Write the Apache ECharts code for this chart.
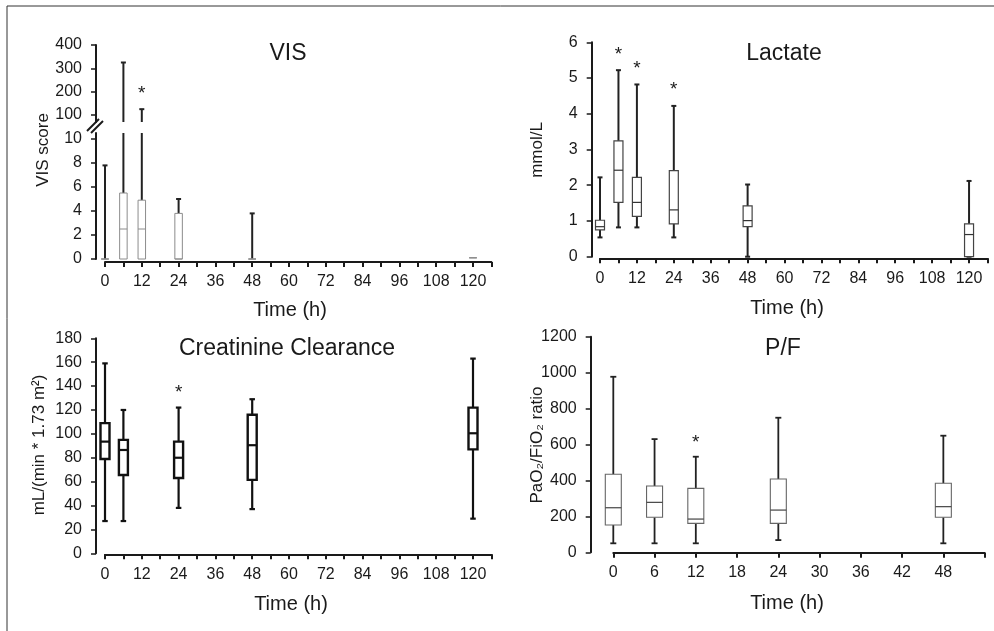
<!DOCTYPE html>
<html>
<head>
<meta charset="utf-8">
<script src="https://cdn.jsdelivr.net/npm/echarts@6.0.0/dist/echarts.min.js"></script>
<style>
  html, body { margin: 0; padding: 0; background: #fff; }
  #main { width: 994px; height: 631px; }
</style>
</head>
<body>
<div id="main"></div>
<script>
// tick labels
var hourTicks = [0, 12, 24, 36, 48, 60, 72, 84, 96, 108, 120];
var pfHourTicks = [0, 6, 12, 18, 24, 30, 36, 42, 48];
var visLowTicks = [0, 2, 4, 6, 8, 10];
var visHighTicks = [100, 200, 300, 400];
var lacTicks = [0, 1, 2, 3, 4, 5, 6];
var crTicks = [0, 20, 40, 60, 80, 100, 120, 140, 160, 180];
var pfTicks = [0, 200, 400, 600, 800, 1000, 1200];

// [time, min, q1, median, q3, max]
var visBoxes = [
    [0, 0, 0, 0, 0, 7.8],
    [6, 0, 0, 2.5, 5.5, 325],
    [12, 0, 0, 2.5, 4.9, 125],
    [24, 0, 0, 0, 3.8, 5.0],
    [48, 0, 0, 0, 0, 3.8],
    [120, 0.1, 0.1, 0.1, 0.1, 0.1]
];
var visStars = [[12, 207]];

var lacBoxes = [
    [0, 0.54, 0.75, 0.84, 1.02, 2.22],
    [6, 0.82, 1.52, 2.42, 3.24, 5.22],
    [12, 0.82, 1.13, 1.52, 2.22, 4.82],
    [24, 0.54, 0.92, 1.31, 2.41, 4.22],
    [48, 0, 0.84, 1.01, 1.42, 2.02],
    [120, 0, 0, 0.62, 0.92, 2.12]
];
var lacStars = [[6, 5.77], [12, 5.37], [24, 4.78]];

var crBoxes = [
    [0, 27, 79, 93.5, 109, 159],
    [6, 27, 65.5, 86.5, 95, 120],
    [24, 38, 63, 80, 93.5, 122],
    [48, 37, 61.5, 90.5, 116, 129],
    [120, 29, 87, 100.5, 122, 163]
];
var crStars = [[24, 138]];

var pfBoxes = [
    [0, 50, 152, 248, 434, 977],
    [6, 50, 195, 278, 369, 630],
    [12, 50, 161, 185, 356, 532],
    [24, 68, 161, 235, 408, 749],
    [48, 50, 195, 254, 384, 649]
];
var pfStars = [[12, 634]];

var FONT = '"Liberation Sans", Arial, sans-serif';
var INK = '#1a1a1a';

function boxRenderer(cfg) {
    return function (params, api) {
        var t = api.value(0);
        var lo = api.value(1), q1 = api.value(2), med = api.value(3), q3 = api.value(4), hi = api.value(5);
        var x = api.coord([t, 0])[0];
        var y = function (v) { return api.coord([t, v])[1]; };
        var half = cfg.boxWidth / 2, cap = cfg.capWidth / 2;
        var kids = [];
        function seg(x1, y1, x2, y2, st) {
            kids.push({type: 'line', shape: {x1: x1, y1: y1, x2: x2, y2: y2}, style: st});
        }
        if (cfg.upperOnly) {
            // part of the whisker above the axis break
            if (hi > cfg.from) {
                seg(x, y(cfg.from), x, y(hi), cfg.whisker);
                seg(x - cap, y(hi), x + cap, y(hi), cfg.whisker);
            }
            return {type: 'group', children: kids};
        }
        var hiC = Math.min(hi, cfg.top);
        if (lo < q1) {
            seg(x, y(lo), x, y(q1), cfg.whisker);
        }
        if (lo < q1 || cfg.capAlways) {
            seg(x - cap, y(lo), x + cap, y(lo), cfg.whisker);
        }
        if (hi > q3) {
            seg(x, y(q3), x, y(hiC), cfg.whisker);
            if (hi <= cfg.top) seg(x - cap, y(hi), x + cap, y(hi), cfg.whisker);
        }
        kids.push({
            type: 'rect',
            shape: {x: x - half, y: y(q3), width: cfg.boxWidth, height: y(q1) - y(q3)},
            style: cfg.box
        });
        seg(x - half, y(med), x + half, y(med), cfg.median);
        return {type: 'group', children: kids};
    };
}

function starRenderer(params, api) {
    var p = api.coord([api.value(0), api.value(1)]);
    return {
        type: 'text',
        x: p[0], y: p[1] + 4,
        style: {text: '*', font: '19px ' + FONT, fill: INK, align: 'center', verticalAlign: 'middle'}
    };
}

function plain(v) { return String(v); }

function xAxisFor(grid, max, labels, offset, show) {
    return {
        type: 'value', gridIndex: grid, min: 0, max: max, interval: 6, offset: offset, show: show,
        axisLine: {show: true, onZero: false, lineStyle: {color: INK, width: 2}},
        axisTick: {show: true, length: 5, lineStyle: {color: INK, width: 2}},
        axisLabel: {customValues: labels, formatter: plain, margin: 12, fontSize: 16, color: INK, fontFamily: FONT},
        splitLine: {show: false}
    };
}

function yAxisFor(grid, min, max, ticks, offset) {
    return {
        type: 'value', gridIndex: grid, min: min, max: max, offset: offset,
        axisLine: {show: true, onZero: false, lineStyle: {color: INK, width: 2}},
        axisTick: {show: true, length: 5, customValues: ticks, lineStyle: {color: INK, width: 1.5}},
        axisLabel: {customValues: ticks, formatter: plain, margin: 14, fontSize: 16, color: INK, fontFamily: FONT},
        splitLine: {show: false}
    };
}

function gridAt(left, top, width, height) {
    return {left: left, top: top, width: width, height: height, containLabel: false, outerBoundsMode: 'none'};
}

function txt(text, x, y, size, rot) {
    return {
        type: 'text', x: x, y: y, rotation: rot || 0, silent: true,
        style: {text: text, font: size + 'px ' + FONT, fill: INK, align: 'center', verticalAlign: 'middle'}
    };
}

var visThin = {stroke: '#8c8c8c', lineWidth: 1, fill: '#fff'};
var visWhisk = {stroke: '#222', lineWidth: 2};

var chart = echarts.init(document.getElementById('main'));
chart.setOption({
    animation: false,
    backgroundColor: '#fff',
    grid: [
        gridAt(105, 45, 386.4, 77),       // VIS above break
        gridAt(105, 133, 386.4, 126),     // VIS below break
        gridAt(600, 42.3, 387.5, 214.4),  // Lactate
        gridAt(105, 338.3, 386.4, 215),   // Creatinine clearance
        gridAt(613.3, 336.7, 371.3, 215.6) // P/F
    ],
    xAxis: [
        xAxisFor(0, 126, hourTicks, 0, false),
        xAxisFor(1, 126, hourTicks, 3, true),
        xAxisFor(2, 126, hourTicks, 1.6, true),
        xAxisFor(3, 126, hourTicks, 1, true),
        xAxisFor(4, 54, pfHourTicks, 0.5, true)
    ],
    yAxis: [
        yAxisFor(0, 70, 400, visHighTicks, 9),
        yAxisFor(1, 0, 10.5, visLowTicks, 9),
        yAxisFor(2, 0, 6, lacTicks, 8.3),
        yAxisFor(3, 0, 180, crTicks, 9),
        yAxisFor(4, 0, 1200, pfTicks, 22.6)
    ],
    series: [
        {
            type: 'custom', name: 'VIS high', xAxisIndex: 0, yAxisIndex: 0, data: visBoxes,
            encode: {x: 0, y: [1, 2, 3, 4, 5]},
            renderItem: boxRenderer({upperOnly: true, from: 70, boxWidth: 7.5, capWidth: 5, whisker: visWhisk})
        },
        {
            type: 'custom', name: 'VIS', xAxisIndex: 1, yAxisIndex: 1, data: visBoxes,
            encode: {x: 0, y: [1, 2, 3, 4, 5]},
            renderItem: boxRenderer({top: 10.5, boxWidth: 7.5, capWidth: 5, whisker: visWhisk,
                box: visThin, median: {stroke: '#8c8c8c', lineWidth: 1}})
        },
        {type: 'custom', xAxisIndex: 0, yAxisIndex: 0, data: visStars, renderItem: starRenderer},
        {
            type: 'custom', name: 'Lactate', xAxisIndex: 2, yAxisIndex: 2, data: lacBoxes,
            encode: {x: 0, y: [1, 2, 3, 4, 5]},
            renderItem: boxRenderer({top: 6, boxWidth: 9, capWidth: 5, capAlways: true,
                whisker: {stroke: '#222', lineWidth: 2},
                box: {stroke: '#444', lineWidth: 1.2, fill: '#fff'}, median: {stroke: '#333', lineWidth: 1.2}})
        },
        {type: 'custom', xAxisIndex: 2, yAxisIndex: 2, data: lacStars, renderItem: starRenderer},
        {
            type: 'custom', name: 'Creatinine Clearance', xAxisIndex: 3, yAxisIndex: 3, data: crBoxes,
            encode: {x: 0, y: [1, 2, 3, 4, 5]},
            renderItem: boxRenderer({top: 180, boxWidth: 9, capWidth: 5.5,
                whisker: {stroke: '#111', lineWidth: 2.2},
                box: {stroke: '#111', lineWidth: 2.4, fill: '#fff'}, median: {stroke: '#111', lineWidth: 2.2}})
        },
        {type: 'custom', xAxisIndex: 3, yAxisIndex: 3, data: crStars, renderItem: starRenderer},
        {
            type: 'custom', name: 'P/F', xAxisIndex: 4, yAxisIndex: 4, data: pfBoxes,
            encode: {x: 0, y: [1, 2, 3, 4, 5]},
            renderItem: boxRenderer({top: 1200, boxWidth: 16, capWidth: 6,
                whisker: {stroke: '#222', lineWidth: 1.8},
                box: {stroke: '#666', lineWidth: 1.1, fill: '#fff'}, median: {stroke: '#444', lineWidth: 1.2}})
        },
        {type: 'custom', xAxisIndex: 4, yAxisIndex: 4, data: pfStars, renderItem: starRenderer}
    ],
    graphic: [
        // frame
        {type: 'line', silent: true, shape: {x1: 7, y1: 6, x2: 994, y2: 6}, style: {stroke: '#333', lineWidth: 1}},
        {type: 'line', silent: true, shape: {x1: 7, y1: 6, x2: 7, y2: 631}, style: {stroke: '#333', lineWidth: 1}},
        // axis break marks on VIS
        {type: 'line', silent: true, shape: {x1: 87, y1: 131, x2: 99, y2: 119}, style: {stroke: INK, lineWidth: 2}},
        {type: 'line', silent: true, shape: {x1: 91, y1: 133, x2: 103, y2: 121}, style: {stroke: INK, lineWidth: 2}},
        // titles
        txt('VIS', 288, 54, 23),
        txt('Lactate', 784, 54, 23),
        txt('Creatinine Clearance', 287, 349, 23),
        txt('P/F', 783, 349, 23),
        // x names
        txt('Time (h)', 290, 310, 20),
        txt('Time (h)', 787, 308, 20),
        txt('Time (h)', 291, 604, 20),
        txt('Time (h)', 787, 603, 20),
        // y names
        txt('VIS score', 43, 150, 17, Math.PI / 2),
        txt('mmol/L', 537, 150, 17, Math.PI / 2),
        txt('mL/(min * 1.73 m\u00b2)', 39, 445, 17, Math.PI / 2),
        txt('PaO\u2082/FiO\u2082 ratio', 537, 445, 17, Math.PI / 2)
    ]
});
</script>
</body>
</html>
